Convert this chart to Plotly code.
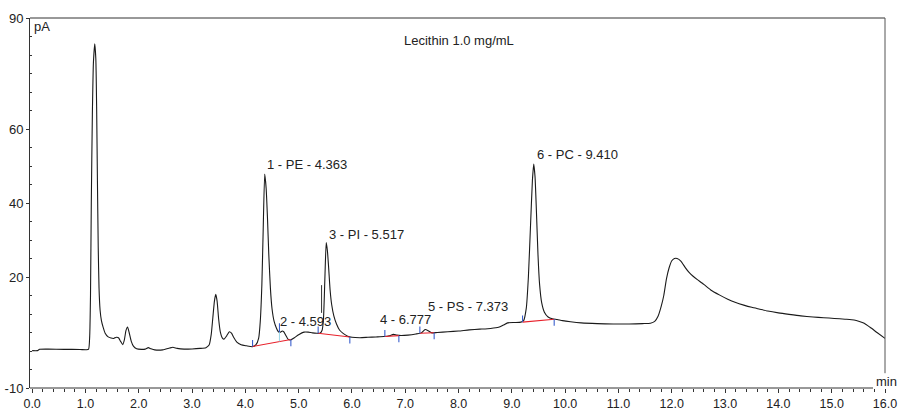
import plotly.graph_objects as go

# ---- chromatogram trace (min, pA) ----
time_min = [0.00, 0.10, 0.14, 0.30, 0.60, 0.90, 1.02, 1.06, 1.08, 1.095, 1.11, 1.13, 1.15, 1.175,
            1.195, 1.21, 1.225, 1.24, 1.255, 1.275, 1.30, 1.33, 1.37, 1.42, 1.48, 1.53, 1.58, 1.62,
            1.66, 1.70, 1.73, 1.76, 1.79, 1.82, 1.86, 1.90, 1.96, 2.05, 2.12, 2.18, 2.23, 2.30, 2.45,
            2.58, 2.64, 2.72, 2.85, 3.00, 3.15, 3.26, 3.32, 3.36, 3.39, 3.42, 3.445, 3.47, 3.50, 3.53,
            3.57, 3.60, 3.65, 3.70, 3.74, 3.78, 3.84, 3.92, 4.02, 4.13, 4.20, 4.25, 4.28, 4.31, 4.335,
            4.363, 4.39, 4.415, 4.44, 4.47, 4.50, 4.54, 4.58, 4.62, 4.66, 4.69, 4.72, 4.76, 4.80, 4.85,
            4.92, 5.00, 5.10, 5.18, 5.26, 5.34, 5.40, 5.44, 5.465, 5.48, 5.495, 5.517, 5.54, 5.565,
            5.59, 5.62, 5.66, 5.71, 5.77, 5.84, 5.92, 6.00, 6.15, 6.30, 6.45, 6.60, 6.70, 6.777, 6.84,
            6.92, 7.05, 7.20, 7.30, 7.373, 7.43, 7.50, 7.60, 7.80, 8.00, 8.20, 8.40, 8.60, 8.75, 8.84,
            8.92, 9.05, 9.17, 9.22, 9.27, 9.31, 9.35, 9.385, 9.41, 9.435, 9.46, 9.49, 9.52, 9.56, 9.61,
            9.68, 9.76, 9.85, 9.95, 10.10, 10.30, 10.60, 10.90, 11.20, 11.45, 11.60, 11.68, 11.74,
            11.80, 11.85, 11.90, 11.95, 12.00, 12.05, 12.10, 12.17, 12.25, 12.32, 12.40, 12.48, 12.60,
            12.73, 12.90, 13.05, 13.20, 13.35, 13.50, 13.65, 13.80, 14.00, 14.20, 14.42, 14.65, 14.85,
            15.05, 15.25, 15.42, 15.52, 15.61, 15.72, 15.85, 16.00]
signal_pA = [0.1, 0.1, 0.45, 0.5, 0.45, 0.4, 0.35, 0.5, 4.0, 15, 40, 64, 78, 83.0,
             79, 66, 46, 28, 17, 11, 8.2, 6.5, 4.8, 3.9, 3.5, 3.4, 3.7, 3.6,
             2.6, 1.7, 3.0, 5.5, 6.5, 5.0, 2.6, 1.3, 0.6, 0.45, 0.5, 0.9, 0.6, 0.3, 0.3,
             0.8, 1.0, 0.7, 0.5, 0.55, 0.7, 0.9, 1.6, 4.5, 9.0, 13.5, 15.3, 13.5, 8.5, 5.2,
             3.5, 3.2, 4.1, 5.2, 4.8, 3.7, 2.4, 1.7, 1.4, 1.15, 1.7, 3.5, 8.0, 18, 33,
             47.8, 44, 36, 26, 17, 11.5, 8.0, 6.3, 5.2, 5.1, 5.4, 5.2, 4.2, 3.2, 3.0,
             3.6, 4.4, 5.1, 5.1, 4.9, 4.8, 4.8, 5.6, 8.5, 14, 21, 29.3, 27, 22,
             16.5, 12.5, 9.5, 7.3, 5.6, 4.7, 4.0, 3.7, 3.6, 3.7, 3.8, 3.9, 4.1, 4.5, 4.3,
             4.2, 4.3, 4.6, 4.9, 5.8, 5.5, 4.9, 5.0, 5.2, 5.4, 5.7, 5.9, 6.1, 6.4, 7.0,
             7.6, 7.7, 7.8, 8.2, 11.5, 20, 34, 46, 50.5, 47, 38, 26, 18, 13, 10.5,
             9.2, 8.7, 8.5, 8.2, 7.9, 7.6, 7.4, 7.3, 7.3, 7.4, 7.5, 8.0, 9.3,
             12, 15, 19.5, 22.5, 24.4, 25.0, 25.0, 24.3, 22.6, 21.3, 20.2, 19.3, 18.0,
             16.5, 15.1, 14.0, 13.1, 12.4, 11.8, 11.3, 10.8, 10.3, 9.9, 9.5, 9.2, 9.0,
             8.8, 8.6, 8.4, 8.0, 7.5, 6.4, 5.0, 3.4]

# ---- integration baselines (red) ----
base_start_t = [4.135, 5.366, 6.617, 7.274, 9.20]
base_start_v = [1.2, 4.8, 3.9, 4.8, 7.8]
base_end_t = [4.854, 5.96, 6.88, 7.542, 9.794]
base_end_v = [3.1, 3.8, 4.15, 4.95, 8.6]

# peak 1 / peak 2 split
split_t = [4.64]
split_curve_v = [5.1]
split_base_v = [2.6]

# dark marker stroke left of peak 3
mark_t = [5.43]
mark_v0 = [10.3]
mark_v1 = [17.8]

# ---- peak labels ----
peak_labels = ["1 - PE - 4.363", "2 - 4.593", "3 - PI - 5.517",
               "4 - 6.777", "5 - PS - 7.373", "6 - PC - 9.410"]
label_t = [4.39, 4.63, 5.55, 6.51, 7.415, 9.46]
label_v = [50.3, 7.9, 31.5, 8.4, 12.0, 53.0]

x_ticks = [float(i) for i in range(17)]
y_ticks = [-10, 20, 40, 60, 90]
y_minor = [v for v in range(-10, 91, 5) if v not in y_ticks]

FONT = "Liberation Sans, Arial, sans-serif"
INK = "#222222"
RED = "#e8202a"
BLUE = "#3a5fcd"
TICK_UP = 1.8

fig = go.Figure()

fig.add_trace(go.Scatter(x=time_min, y=signal_pA, mode="lines",
                         line=dict(color="#1a1a1a", width=1.1, shape="spline", smoothing=0.5),
                         hoverinfo="skip", showlegend=False, cliponaxis=False))

# red baselines
for t0, v0, t1, v1 in zip(base_start_t, base_start_v, base_end_t, base_end_v):
    fig.add_trace(go.Scatter(x=[t0, t1], y=[v0, v1], mode="lines",
                             line=dict(color=RED, width=1.1), hoverinfo="skip", showlegend=False))
    # blue delimiters: up at start, down at end
    fig.add_trace(go.Scatter(x=[t0, t0, None, t1, t1], y=[v0, v0 + TICK_UP, None, v1, v1 - TICK_UP],
                             mode="lines", line=dict(color=BLUE, width=1.1),
                             hoverinfo="skip", showlegend=False))

for t, vc, vb in zip(split_t, split_curve_v, split_base_v):
    fig.add_trace(go.Scatter(x=[t, t], y=[vb, vc], mode="lines",
                             line=dict(color="#9fd8e8", width=1.1), hoverinfo="skip", showlegend=False))
    fig.add_trace(go.Scatter(x=[t, t], y=[vc, vc + 2.4], mode="lines",
                             line=dict(color=BLUE, width=1.1), hoverinfo="skip", showlegend=False))

for t, v0, v1 in zip(mark_t, mark_v0, mark_v1):
    fig.add_trace(go.Scatter(x=[t, t], y=[v0, v1], mode="lines",
                             line=dict(color="#333333", width=1), hoverinfo="skip", showlegend=False))

for txt, t, v in zip(peak_labels, label_t, label_v):
    fig.add_annotation(x=t, y=v, text=txt, showarrow=False, xanchor="left", yanchor="middle",
                       font=dict(family=FONT, size=13, color=INK), borderpad=0)

fig.add_annotation(x=0.502, y=0.9405, xref="paper", yref="paper", text="Lecithin 1.0 mg/mL",
                   showarrow=False, xanchor="center", yanchor="middle",
                   font=dict(family=FONT, size=13, color=INK))
fig.add_annotation(x=0.0035, y=0.976, xref="paper", yref="paper", text="pA",
                   showarrow=False, xanchor="left", yanchor="middle", borderpad=0,
                   font=dict(family=FONT, size=13, color=INK))
fig.add_annotation(x=1.0012, y=0.017, xref="paper", yref="paper", text="min",
                   showarrow=False, xanchor="center", yanchor="middle", borderpad=0,
                   font=dict(family=FONT, size=13, color=INK))

# frame lines
fig.add_shape(type="line", xref="paper", yref="paper", x0=0, x1=1, y0=1, y1=1,
              line=dict(color="#333333", width=1))
fig.add_shape(type="line", xref="paper", yref="paper", x0=1, x1=1, y0=0.04, y1=1,
              line=dict(color="#555555", width=1))
fig.add_shape(type="line", xref="paper", yref="paper", x0=0, x1=0.986, y0=0, y1=0,
              line=dict(color="#333333", width=1))

fig.update_layout(
    width=906, height=410,
    margin=dict(l=30, r=21, t=18, b=22, autoexpand=False),
    paper_bgcolor="white", plot_bgcolor="white",
    font=dict(family=FONT, size=13, color=INK),
    showlegend=False,
    xaxis=dict(range=[-0.04, 16.0], tickvals=x_ticks, tickformat=".1f", automargin=False,
               ticks="outside", ticklen=4, tickcolor="#333333", tickwidth=1,
               minor=dict(dtick=0.2, tick0=0, ticks="outside", ticklen=3, tickcolor="#333333"),
               showline=False, showgrid=False, zeroline=False,
               tickfont=dict(family=FONT, size=12.5, color=INK)),
    yaxis=dict(range=[-10, 90], tickvals=y_ticks, ticktext=[str(v) for v in y_ticks],
               automargin=False,
               ticks="outside", ticklen=3, tickcolor="#333333",
               minor=dict(tickvals=y_minor, ticks="inside", ticklen=2, tickcolor="#333333"),
               showline=True, linecolor="#333333", linewidth=1,
               showgrid=False, zeroline=False,
               tickfont=dict(family=FONT, size=13, color=INK)),
)

# remove the browser's default 8px page margin so the 906x410 figure fills the window
fig.write_html("out.html", config={"displayModeBar": False},
               post_script="document.body.style.margin='0';document.body.style.overflow='hidden';")
